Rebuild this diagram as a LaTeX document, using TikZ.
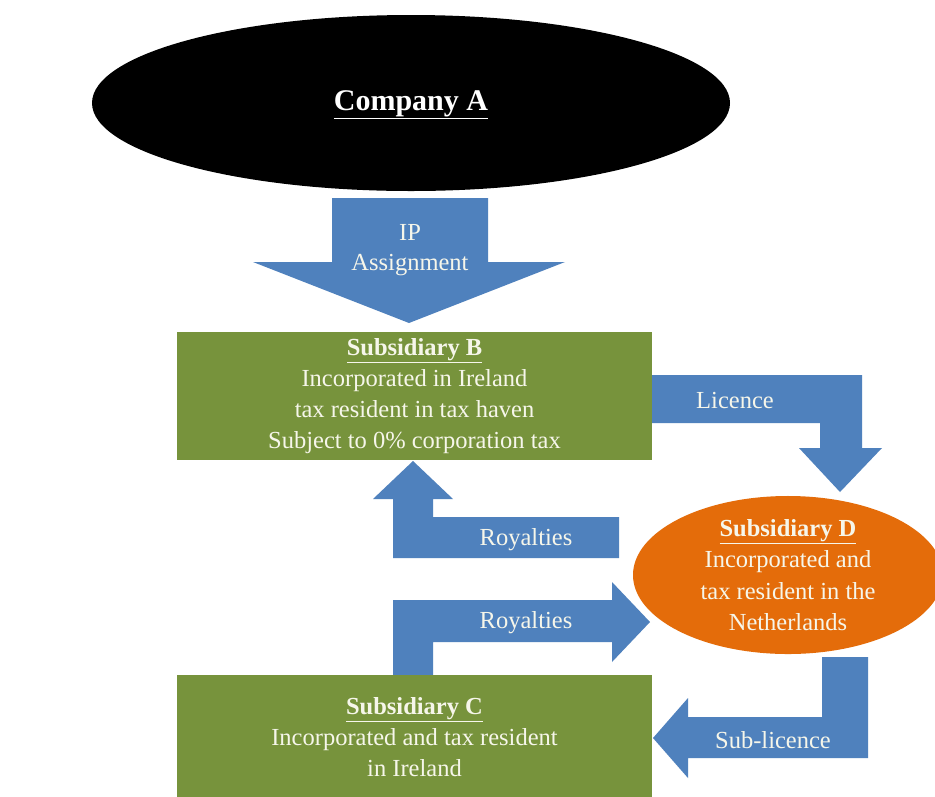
\documentclass[tikz,border=0pt]{standalone}
\usepackage{fontspec}
\setmainfont{Liberation Serif}
\usetikzlibrary{shapes.geometric}
\definecolor{arrblue}{HTML}{4F81BD}
\definecolor{boxgreen}{HTML}{77933C}
\definecolor{dorange}{HTML}{E46C0A}
\definecolor{cream}{HTML}{F6F6EA}
\begin{document}
\begin{tikzpicture}[x=1pt,y=-1pt,
  blockarrow/.style={fill=arrblue, draw=none},
  lbl/.style={text=cream, font=\fontsize{24.5}{31}\selectfont, inner sep=0pt},
  greenbox/.style={rectangle, fill=boxgreen, draw=none, minimum width=475pt, align=center,
    text=cream, font=\fontsize{24.5}{31}\selectfont, inner sep=0pt},
  orangeell/.style={ellipse, fill=dorange, draw=none, minimum width=310pt, minimum height=154pt,
    align=center, text=cream, font=\fontsize{24.5}{31.5}\selectfont, inner sep=0pt},
  blackell/.style={ellipse, fill=black, draw=none, minimum width=638pt, minimum height=176pt,
    inner sep=0pt},
  titletext/.style={text=white, font=\fontsize{30}{36}\selectfont\bfseries, inner sep=0pt}
]
\clip (0,0) rectangle (935,796);
\fill[white] (0,0) rectangle (935,796);

% block arrows
\fill[blockarrow] (332,198) -- (488,198) -- (488,262) -- (565,262) -- (409,323) -- (253,262) -- (332,262) -- cycle;
\fill[blockarrow] (652,375) -- (862,375) -- (862,448) -- (882,448) -- (840,492) -- (799,448) -- (820,448) -- (820,423) -- (652,423) -- cycle;
\fill[blockarrow] (413,461) -- (453,499) -- (433,499) -- (433,517) -- (619,517) -- (619,558) -- (393,558) -- (393,499) -- (373,499) -- cycle;
\fill[blockarrow] (393,676) -- (393,600) -- (612,600) -- (612,582) -- (650,622) -- (612,662) -- (612,642) -- (433,642) -- (433,676) -- cycle;
\fill[blockarrow] (822,657) -- (868,657) -- (868,758) -- (688,758) -- (688,778) -- (653,738) -- (688,698) -- (688,717) -- (822,717) -- cycle;

% nodes
\node[blackell] (A) at (411,103) {};
\node[titletext] (Atext) at (411,105) {\underline{Company A}};
\node[greenbox, minimum height=128pt] (B) at (414.5,396)
  {\textbf{\underline{Subsidiary B}}\\Incorporated in Ireland\\tax resident in tax haven\\Subject to 0\% corporation tax};
\node[greenbox, minimum height=125pt] (C) at (414.5,737.5)
  {\textbf{\underline{Subsidiary C}}\\Incorporated and tax resident\\in Ireland};
\node[orangeell] (D) at (788,575)
  {\textbf{\underline{Subsidiary D}}\\Incorporated and\\tax resident in the\\Netherlands};

% arrow labels
\node[lbl] (ip) at (410,232) {IP};
\node[lbl] (assign) at (410,265) {Assignment};
\node[lbl] (lic) at (735,401) {Licence};
\node[lbl] (roy1) at (526,540) {Royalties};
\node[lbl] (roy2) at (526,623) {Royalties};
\node[lbl] (sub) at (773,740) {Sub-licence};
\end{tikzpicture}
\end{document}
